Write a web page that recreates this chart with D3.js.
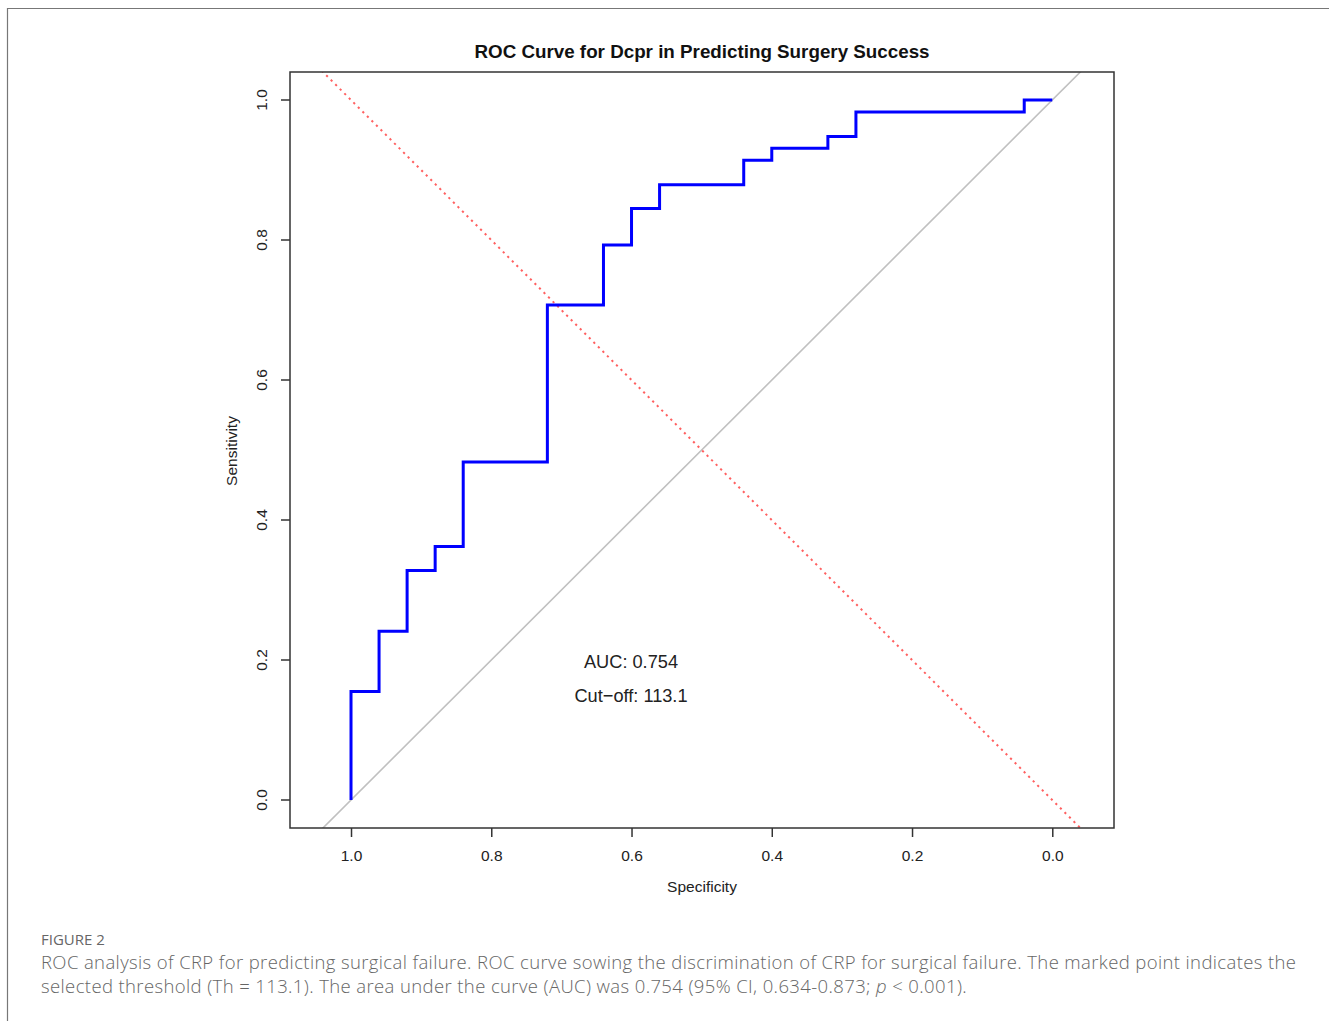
<!DOCTYPE html>
<html>
<head>
<meta charset="utf-8">
<script src="https://cdn.jsdelivr.net/npm/d3@7"></script>
<style>
  html, body { margin: 0; padding: 0; background: #fff; }
  svg { display: block; }
</style>
</head>
<body>
<svg id="chart" width="1329" height="1021"></svg>
<script>
// ---- data ----
const specificity = [1.00, 1.00, 0.96, 0.96, 0.92, 0.92, 0.88, 0.88, 0.84, 0.84, 0.72, 0.72, 0.64, 0.64, 0.60, 0.60, 0.56, 0.56, 0.44, 0.44, 0.40, 0.40, 0.32, 0.32, 0.28, 0.28, 0.04, 0.04, 0.00];
const sensitivity = [0.000, 0.155, 0.155, 0.241, 0.241, 0.328, 0.328, 0.362, 0.362, 0.483, 0.483, 0.707, 0.707, 0.793, 0.793, 0.845, 0.845, 0.879, 0.879, 0.914, 0.914, 0.931, 0.931, 0.948, 0.948, 0.983, 0.983, 1.000, 1.000];
const xTicks = [1.0, 0.8, 0.6, 0.4, 0.2, 0.0];
const yTicks = [0.0, 0.2, 0.4, 0.6, 0.8, 1.0];
const titleText = "ROC Curve for Dcpr in Predicting Surgery Success";
const xLabel = "Specificity";
const yLabel = "Sensitivity";
const annotations = ["AUC: 0.754", "Cut\u2212off: 113.1"];
const captionHead = "FIGURE 2";
const captionLines = [
  "ROC analysis of CRP for predicting surgical failure. ROC curve sowing the discrimination of CRP for surgical failure. The marked point indicates the",
  "selected threshold (Th = 113.1). The area under the curve (AUC) was 0.754 (95% CI, 0.634-0.873; "
];

// ---- layout ----
const svg = d3.select("#chart");
const box = {left: 290, right: 1114, top: 72, bottom: 828};
const x = d3.scaleLinear().domain([1.087, -0.088]).range([box.left, box.right]);
const y = d3.scaleLinear().domain([-0.04, 1.04]).range([box.bottom, box.top]);
const font = "'Liberation Sans', Arial, Helvetica, sans-serif";

// outer frame
svg.append("line").attr("x1", 7).attr("x2", 1329).attr("y1", 8.5).attr("y2", 8.5)
  .attr("stroke", "#777").attr("stroke-width", 1.2);
svg.append("line").attr("x1", 7.5).attr("x2", 7.5).attr("y1", 8).attr("y2", 1021)
  .attr("stroke", "#777").attr("stroke-width", 1.2);

// clip
svg.append("clipPath").attr("id", "plotclip").append("rect")
  .attr("x", box.left).attr("y", box.top)
  .attr("width", box.right - box.left).attr("height", box.bottom - box.top);

const plot = svg.append("g").attr("clip-path", "url(#plotclip)");
const dom = x.domain();
// grey chance diagonal: sens = 1 - spec
plot.append("line")
  .attr("x1", x(dom[0])).attr("y1", y(1 - dom[0]))
  .attr("x2", x(dom[1])).attr("y2", y(1 - dom[1]))
  .attr("stroke", "#c0c0c0").attr("stroke-width", 1.6);
// red dotted: sens = spec
plot.append("line")
  .attr("x1", x(dom[0])).attr("y1", y(dom[0]))
  .attr("x2", x(dom[1])).attr("y2", y(dom[1]))
  .attr("stroke", "#ff6060").attr("stroke-width", 2)
  .attr("stroke-dasharray", "2.2,4.2");

// ROC curve
const pts = specificity.map((s, i) => [s, sensitivity[i]]);
plot.append("path")
  .datum(pts)
  .attr("fill", "none")
  .attr("stroke", "#0000ff")
  .attr("stroke-width", 3)
  .attr("stroke-linejoin", "miter")
  .attr("d", d3.line().x(d => x(d[0])).y(d => y(d[1])));

// box
svg.append("rect")
  .attr("x", box.left).attr("y", box.top)
  .attr("width", box.right - box.left).attr("height", box.bottom - box.top)
  .attr("fill", "none").attr("stroke", "#333").attr("stroke-width", 1.5);

// axes
const xAxis = svg.append("g").attr("transform", `translate(0,${box.bottom})`)
  .call(d3.axisBottom(x).tickValues(xTicks).tickFormat(d3.format(".1f")).tickSize(9).tickPadding(13));
xAxis.select(".domain").remove();
xAxis.selectAll("line").attr("stroke", "#333").attr("stroke-width", 1.5);
xAxis.selectAll("text").attr("font-family", font).attr("font-size", 15.5).attr("fill", "#222");

const yAxis = svg.append("g").attr("transform", `translate(${box.left},0)`)
  .call(d3.axisLeft(y).tickValues(yTicks).tickFormat(d3.format(".1f")).tickSize(9).tickPadding(0));
yAxis.select(".domain").remove();
yAxis.selectAll(".tick").attr("transform", null);
yAxis.selectAll(".tick line").attr("y1", d => y(d)).attr("y2", d => y(d))
  .attr("stroke", "#333").attr("stroke-width", 1.5);
yAxis.selectAll("text")
  .attr("font-family", font).attr("font-size", 15.5).attr("fill", "#222")
  .attr("x", null).attr("y", 0).attr("dy", "0.35em")
  .attr("text-anchor", "middle")
  .attr("transform", d => `translate(-28,${y(d)}) rotate(-90)`);

// title and labels
svg.append("text").attr("x", 702).attr("y", 58).attr("text-anchor", "middle")
  .attr("font-family", font).attr("font-size", 18.8).attr("font-weight", "bold").attr("fill", "#111")
  .text(titleText);
svg.append("text").attr("x", 702).attr("y", 892).attr("text-anchor", "middle")
  .attr("font-family", font).attr("font-size", 15.5).attr("fill", "#222")
  .text(xLabel);
svg.append("text").attr("transform", "translate(237,451) rotate(-90)").attr("text-anchor", "middle")
  .attr("font-family", font).attr("font-size", 15.5).attr("fill", "#222")
  .text(yLabel);

// annotations
svg.append("text").attr("x", 631).attr("y", 668).attr("text-anchor", "middle")
  .attr("font-family", font).attr("font-size", 18.2).attr("fill", "#222").text(annotations[0]);
svg.append("text").attr("x", 631).attr("y", 702).attr("text-anchor", "middle")
  .attr("font-family", font).attr("font-size", 18.2).attr("fill", "#222").text(annotations[1]);

// caption
const capFont = "'Open Sans', Lato, sans-serif";
svg.append("text").attr("x", 41).attr("y", 945)
  .attr("font-family", capFont).attr("font-size", 15).attr("fill", "#666")
  .text(captionHead);
svg.append("text").attr("x", 41).attr("y", 969)
  .attr("font-family", capFont).attr("font-size", 18.5).attr("fill", "#666").attr("font-weight", 300)
  .attr("letter-spacing", "0.38px")
  .text(captionLines[0]);
const l2 = svg.append("text").attr("x", 41).attr("y", 993)
  .attr("font-family", capFont).attr("font-size", 18.5).attr("fill", "#666").attr("font-weight", 300)
  .attr("letter-spacing", "0.38px");
l2.append("tspan").text(captionLines[1]);
l2.append("tspan").attr("font-style", "italic").text("p");
l2.append("tspan").text(" < 0.001).");
</script>
</body>
</html>
